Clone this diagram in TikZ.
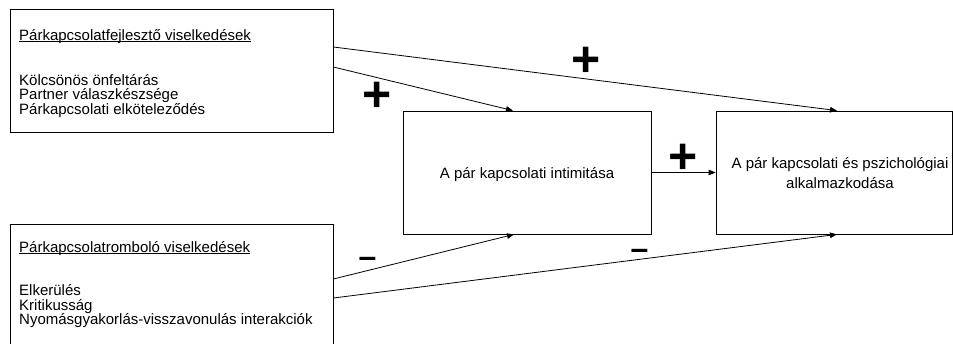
\documentclass[tikz,border=0pt]{standalone}
\usepackage{fontspec}
\setmainfont{Liberation Sans}
\usetikzlibrary{arrows.meta}
\newcommand\hdrul[1]{\setbox0\hbox{#1}\rlap{\rule[-2.2pt]{\wd0}{0.9pt}}\box0}
\begin{document}
\begin{tikzpicture}[x=1pt,y=-1pt,
  box/.style={draw,line width=0.8pt,inner sep=0pt,rectangle},
  txt/.style={anchor=base west,inner sep=0pt,font=\fontsize{15}{18}\selectfont},
  ctxt/.style={anchor=base,inner sep=0pt,font=\fontsize{15}{18}\selectfont},
  conn/.style={line width=0.8pt,-{Triangle[length=7pt,width=5.5pt]}},
  plussign/.style={anchor=base,inner sep=0pt,font=\fontsize{50}{50}\selectfont\bfseries},
  minussign/.style={anchor=base,inner sep=0pt,font=\fontsize{32}{32}\selectfont\bfseries}]
\useasboundingbox (0,0) rectangle (953,343);
% boxes
\node[box,minimum width=323pt,minimum height=123pt] (A) at (171.5,70.5) {};
\node[box,minimum width=323pt,minimum height=128pt] (B) at (171.5,288) {};
\node[box,minimum width=248pt,minimum height=123pt] (C) at (527,172.5) {};
\node[box,minimum width=236pt,minimum height=123pt] (D) at (834,172.5) {};
% texts box A
\node[txt] (a0) at (19,40) {\hdrul{Párkapcsolatfejlesztő viselkedések}};
\node[txt] (a1) at (19,85) {Kölcsönös önfeltárás};
\node[txt] (a2) at (19,99.5) {Partner válaszkészsége};
\node[txt] (a3) at (19,114) {Párkapcsolati elköteleződés};
% texts box B
\node[txt] (b0) at (19,252) {\hdrul{Párkapcsolatromboló viselkedések}};
\node[txt] (b1) at (19,295.5) {Elkerülés};
\node[txt] (b2) at (19,310) {Kritikusság};
\node[txt] (b3) at (19,324.5) {Nyomásgyakorlás-visszavonulás interakciók};
% texts C, D
\node[ctxt] (c0) at (527,178) {A pár kapcsolati intimitása};
\node[ctxt] (d0) at (840,168) {A pár kapcsolati és pszichológiai};
\node[ctxt] (d1) at (840,188) {alkalmazkodása};
% connectors
\draw[conn] ([yshift=23.5pt]A.east) -- ([xshift=3pt]D.north);
\draw[conn] ([yshift=3.5pt]A.east) -- ([xshift=-14pt]C.north);
\draw[conn] ([yshift=9pt]B.east) -- ([xshift=-13pt]C.south);
\draw[conn] ([yshift=-10pt]B.east) -- ([xshift=3pt]D.south);
\draw[conn] (C.east) -- (D.west);
% signs
\node[plussign] (p1) at (377,111.5) {+};
\node[plussign] (p2) at (586,76.5) {+};
\node[plussign] (p3) at (683,173) {+};
\node[minussign] (m1) at (367.5,267.5) {–};
\node[minussign] (m2) at (639.5,259.5) {–};
\end{tikzpicture}
\end{document}
